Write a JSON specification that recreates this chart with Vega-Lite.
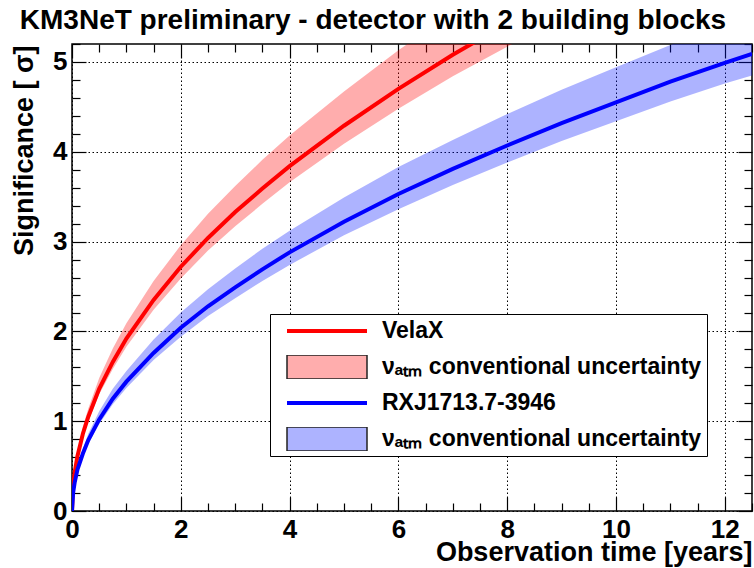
{
  "$schema": "https://vega.github.io/schema/vega-lite/v6.json",
  "width": 680,
  "height": 467,
  "autosize": {"type": "none"},
  "padding": {"left": 72, "top": 44, "right": 2, "bottom": 57},
  "background": "white",
  "title": {"text": "KM3NeT preliminary - detector with 2 building blocks", "font": "Liberation Sans", "fontSize": 28, "fontWeight": "bold", "color": "black", "anchor": "middle", "dx": -39, "dy": 30, "offset": 16, "baseline": "alphabetic"},
  "config": {
    "font": "Liberation Sans",
    "view": {"stroke": "black", "strokeWidth": 1.5},
    "axis": {"domain": false, "tickColor": "black", "tickWidth": 1.2, "labelColor": "black", "labelFont": "Liberation Sans", "labelFontWeight": "bold", "labelFontSize": 26, "labelFlush": false, "labelOverlap": false, "gridColor": "black", "gridDash": [1.5, 2.5], "gridWidth": 1, "gridOpacity": 1, "titleColor": "black", "titleFont": "Liberation Sans", "titleFontWeight": "bold", "titleFontSize": 27},
    "legend": {"orient": "none", "legendX": 198, "legendY": 270, "title": null, "fillColor": "white", "strokeColor": "black", "padding": 5, "cornerRadius": 0, "rowPadding": 12, "clipHeight": 24, "symbolSize": 6400, "symbolStrokeWidth": 1.5, "symbolOffset": 11, "labelOffset": 14, "labelFont": "Liberation Sans", "labelFontSize": 23, "labelFontWeight": "bold", "labelColor": "black", "labelLimit": 500}
  },
  "data": {"values": [
    {"src": "VelaX", "band": "VelaX band", "t": 0, "y": 0, "lo": 0, "hi": 0},
    {"src": "VelaX", "band": "VelaX band", "t": 0.02, "y": 0.27, "lo": 0.26, "hi": 0.29},
    {"src": "VelaX", "band": "VelaX band", "t": 0.05, "y": 0.43, "lo": 0.41, "hi": 0.47},
    {"src": "VelaX", "band": "VelaX band", "t": 0.1, "y": 0.61, "lo": 0.58, "hi": 0.66},
    {"src": "VelaX", "band": "VelaX band", "t": 0.2, "y": 0.86, "lo": 0.82, "hi": 0.94},
    {"src": "VelaX", "band": "VelaX band", "t": 0.3, "y": 1.05, "lo": 1.0, "hi": 1.14},
    {"src": "VelaX", "band": "VelaX band", "t": 0.5, "y": 1.36, "lo": 1.3, "hi": 1.48},
    {"src": "VelaX", "band": "VelaX band", "t": 0.75, "y": 1.66, "lo": 1.58, "hi": 1.81},
    {"src": "VelaX", "band": "VelaX band", "t": 1, "y": 1.92, "lo": 1.83, "hi": 2.09},
    {"src": "VelaX", "band": "VelaX band", "t": 1.5, "y": 2.35, "lo": 2.24, "hi": 2.56},
    {"src": "VelaX", "band": "VelaX band", "t": 2, "y": 2.72, "lo": 2.59, "hi": 2.96},
    {"src": "VelaX", "band": "VelaX band", "t": 2.5, "y": 3.04, "lo": 2.9, "hi": 3.31},
    {"src": "VelaX", "band": "VelaX band", "t": 3, "y": 3.33, "lo": 3.17, "hi": 3.62},
    {"src": "VelaX", "band": "VelaX band", "t": 3.5, "y": 3.59, "lo": 3.42, "hi": 3.91},
    {"src": "VelaX", "band": "VelaX band", "t": 4, "y": 3.84, "lo": 3.66, "hi": 4.18},
    {"src": "VelaX", "band": "VelaX band", "t": 5, "y": 4.29, "lo": 4.09, "hi": 4.67},
    {"src": "VelaX", "band": "VelaX band", "t": 6, "y": 4.7, "lo": 4.48, "hi": 5.13},
    {"src": "VelaX", "band": "VelaX band", "t": 7, "y": 5.08, "lo": 4.84, "hi": 5.55},
    {"src": "VelaX", "band": "VelaX band", "t": 8, "y": 5.43, "lo": 5.17, "hi": 5.93},
    {"src": "VelaX", "band": "VelaX band", "t": 9, "y": 5.76, "lo": 5.49, "hi": 6.29},
    {"src": "RXJ1713.7-3946", "band": "RXJ band", "t": 0, "y": 0, "lo": 0, "hi": 0},
    {"src": "RXJ1713.7-3946", "band": "RXJ band", "t": 0.02, "y": 0.2, "lo": 0.19, "hi": 0.22},
    {"src": "RXJ1713.7-3946", "band": "RXJ band", "t": 0.05, "y": 0.32, "lo": 0.3, "hi": 0.35},
    {"src": "RXJ1713.7-3946", "band": "RXJ band", "t": 0.1, "y": 0.46, "lo": 0.44, "hi": 0.5},
    {"src": "RXJ1713.7-3946", "band": "RXJ band", "t": 0.2, "y": 0.64, "lo": 0.61, "hi": 0.69},
    {"src": "RXJ1713.7-3946", "band": "RXJ band", "t": 0.3, "y": 0.79, "lo": 0.75, "hi": 0.86},
    {"src": "RXJ1713.7-3946", "band": "RXJ band", "t": 0.5, "y": 1.02, "lo": 0.97, "hi": 1.11},
    {"src": "RXJ1713.7-3946", "band": "RXJ band", "t": 0.75, "y": 1.25, "lo": 1.19, "hi": 1.36},
    {"src": "RXJ1713.7-3946", "band": "RXJ band", "t": 1, "y": 1.44, "lo": 1.37, "hi": 1.56},
    {"src": "RXJ1713.7-3946", "band": "RXJ band", "t": 1.5, "y": 1.76, "lo": 1.68, "hi": 1.91},
    {"src": "RXJ1713.7-3946", "band": "RXJ band", "t": 2, "y": 2.04, "lo": 1.94, "hi": 2.21},
    {"src": "RXJ1713.7-3946", "band": "RXJ band", "t": 2.5, "y": 2.28, "lo": 2.17, "hi": 2.47},
    {"src": "RXJ1713.7-3946", "band": "RXJ band", "t": 3, "y": 2.49, "lo": 2.37, "hi": 2.7},
    {"src": "RXJ1713.7-3946", "band": "RXJ band", "t": 3.5, "y": 2.69, "lo": 2.56, "hi": 2.92},
    {"src": "RXJ1713.7-3946", "band": "RXJ band", "t": 4, "y": 2.88, "lo": 2.74, "hi": 3.12},
    {"src": "RXJ1713.7-3946", "band": "RXJ band", "t": 5, "y": 3.22, "lo": 3.07, "hi": 3.49},
    {"src": "RXJ1713.7-3946", "band": "RXJ band", "t": 6, "y": 3.53, "lo": 3.36, "hi": 3.83},
    {"src": "RXJ1713.7-3946", "band": "RXJ band", "t": 7, "y": 3.81, "lo": 3.63, "hi": 4.13},
    {"src": "RXJ1713.7-3946", "band": "RXJ band", "t": 8, "y": 4.07, "lo": 3.88, "hi": 4.42},
    {"src": "RXJ1713.7-3946", "band": "RXJ band", "t": 9, "y": 4.32, "lo": 4.12, "hi": 4.69},
    {"src": "RXJ1713.7-3946", "band": "RXJ band", "t": 10, "y": 4.55, "lo": 4.34, "hi": 4.94},
    {"src": "RXJ1713.7-3946", "band": "RXJ band", "t": 11, "y": 4.78, "lo": 4.56, "hi": 5.19},
    {"src": "RXJ1713.7-3946", "band": "RXJ band", "t": 12, "y": 4.99, "lo": 4.76, "hi": 5.41},
    {"src": "RXJ1713.7-3946", "band": "RXJ band", "t": 12.5, "y": 5.09, "lo": 4.85, "hi": 5.52}
  ]},
  "resolve": {"axis": {"x": "independent", "y": "independent"}},
  "layer": [
    {
      "transform": [{"filter": "datum.src === 'VelaX'"}],
      "mark": {"type": "area", "clip": true, "opacity": 1},
      "encoding": {
        "x": {"field": "t", "type": "quantitative", "scale": {"domain": [0, 12.5], "nice": false, "zero": false},
          "axis": {"orient": "bottom", "values": [0, 2, 4, 6, 8, 10, 12], "tickSize": -14, "labelPadding": 19, "grid": true, "title": "Observation time [years]", "titleAnchor": "end", "titleAlign": "right", "titleX": 680, "titleY": 49, "titleBaseline": "alphabetic"}},
        "y": {"field": "lo", "type": "quantitative", "scale": {"domain": [0, 5.2], "nice": false, "zero": false},
          "axis": {"orient": "left", "values": [0, 1, 2, 3, 4, 5], "tickSize": -14, "labelPadding": 19, "grid": true, "title": "Significance [ σ]", "titleAngle": -90, "titleAlign": "right", "titleBaseline": "alphabetic", "titleX": -40, "titleY": 1}},
        "y2": {"field": "hi"},
        "color": {"field": "band", "type": "nominal",
          "scale": {"domain": ["VelaX", "VelaX band", "RXJ1713.7-3946", "RXJ band"], "range": ["#ff0000", "rgba(255,0,0,0.32)", "#0000ff", "rgba(0,20,255,0.32)"]},
          "legend": {
            "labelExpr": "datum.value == 'VelaX band' || datum.value == 'RXJ band' ? 'νₐₜₘ conventional uncertainty' : datum.label",
            "symbolType": {"expr": "datum.value == 'VelaX band' || datum.value == 'RXJ band' ? 'M-1,-0.3H1V0.3H-1Z' : 'M-1,-0.05H1V0.05H-1Z'"},
            "symbolStrokeColor": {"expr": "datum.value == 'VelaX band' || datum.value == 'RXJ band' ? '#222222' : 'transparent'"}
          }}
      }
    },
    {
      "transform": [{"filter": "datum.src !== 'VelaX'"}],
      "mark": {"type": "area", "clip": true, "fill": "rgba(0,20,255,0.32)"},
      "encoding": {
        "x": {"field": "t", "type": "quantitative",
          "axis": {"orient": "bottom", "values": [0.5, 1, 1.5, 2.5, 3, 3.5, 4.5, 5, 5.5, 6.5, 7, 7.5, 8.5, 9, 9.5, 10.5, 11, 11.5, 12.5], "tickSize": -8, "labels": false, "grid": false, "title": null}},
        "y": {"field": "lo", "type": "quantitative",
          "axis": {"orient": "left", "values": [0.2, 0.4, 0.6, 0.8, 1.2, 1.4, 1.6, 1.8, 2.2, 2.4, 2.6, 2.8, 3.2, 3.4, 3.6, 3.8, 4.2, 4.4, 4.6, 4.8, 5.2], "tickSize": -8, "labels": false, "grid": false, "title": null}},
        "y2": {"field": "hi"}
      }
    },
    {
      "transform": [{"filter": "datum.src === 'VelaX'"}],
      "mark": {"type": "line", "clip": true, "strokeWidth": 4, "stroke": "#ff0000"},
      "encoding": {
        "x": {"field": "t", "type": "quantitative",
          "axis": {"orient": "top", "values": [0, 2, 4, 6, 8, 10, 12], "tickSize": -14, "labels": false, "grid": false, "title": null}},
        "y": {"field": "y", "type": "quantitative",
          "axis": {"orient": "right", "values": [0, 1, 2, 3, 4, 5], "tickSize": -14, "labels": false, "grid": false, "title": null}}
      }
    },
    {
      "transform": [{"filter": "datum.src !== 'VelaX'"}],
      "mark": {"type": "line", "clip": true, "strokeWidth": 4, "stroke": "#0000ff"},
      "encoding": {
        "x": {"field": "t", "type": "quantitative",
          "axis": {"orient": "top", "values": [0.5, 1, 1.5, 2.5, 3, 3.5, 4.5, 5, 5.5, 6.5, 7, 7.5, 8.5, 9, 9.5, 10.5, 11, 11.5, 12.5], "tickSize": -8, "labels": false, "grid": false, "title": null}},
        "y": {"field": "y", "type": "quantitative",
          "axis": {"orient": "right", "values": [0.2, 0.4, 0.6, 0.8, 1.2, 1.4, 1.6, 1.8, 2.2, 2.4, 2.6, 2.8, 3.2, 3.4, 3.6, 3.8, 4.2, 4.4, 4.6, 4.8, 5.2], "tickSize": -8, "labels": false, "grid": false, "title": null}}
      }
    }
  ]
}
